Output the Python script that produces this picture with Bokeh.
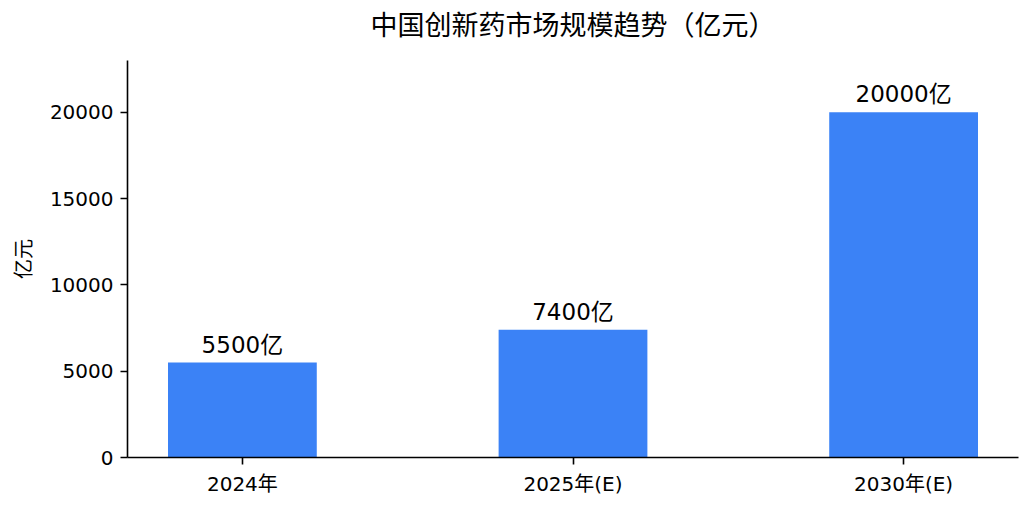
from bokeh.plotting import figure
from bokeh.models import FixedTicker, ColumnDataSource, Range1d, Title
from bokeh.core.properties import value
from bokeh.embed import file_html
from bokeh.resources import INLINE

categories = ["2024年", "2025年(E)", "2030年(E)"]
values = [5500, 7400, 20000]
bar_labels = ["5500亿", "7400亿", "20000亿"]
y_ticks = [0, 5000, 10000, 15000, 20000]
title_text = "中国创新药市场规模趋势（亿元）"

FONT = "DejaVu Sans, Noto Sans CJK SC"
TITLE_FONT = "Noto Sans CJK TC, DejaVu Sans"
positions = list(range(len(categories)))

src = ColumnDataSource(dict(x=positions, top=values, label=bar_labels))

p = figure(width=1024, height=501, output_backend="svg", toolbar_location=None,
           x_range=Range1d(-0.3475, len(categories) - 1 + 0.3475),
           y_range=Range1d(0, max(values) * 1.15),
           min_border_left=127, min_border_right=6, min_border_top=60, min_border_bottom=44,
           title=None)

# small spacer between frame and title (closest to the frame)
p.add_layout(Title(text=" ", text_font=FONT, text_font_size="12px", standoff=0), "above")
p.add_layout(Title(text=title_text, align="center", vertical_align="top", text_font=TITLE_FONT,
                   text_font_size="27px", text_font_style="normal", text_color="#000000",
                   standoff=0), "above")

p.vbar(x="x", top="top", width=0.45, bottom=0, source=src, color="#3b82f6", line_color=None)
p.text(x="x", y="top", text="label", source=src, text_align="center", text_baseline="alphabetic",
       y_offset=-18, text_font=value(FONT), text_font_size="23px", text_color="#000000")

p.xgrid.visible = False
p.ygrid.visible = False
p.outline_line_color = None

p.xaxis.ticker = FixedTicker(ticks=positions)
p.xaxis.major_label_overrides = {i: c for i, c in zip(positions, categories)}
p.yaxis.ticker = FixedTicker(ticks=y_ticks)
p.yaxis.axis_label = "亿元"

for ax in (p.xaxis, p.yaxis):
    ax.axis_line_color = "#000000"
    ax.axis_line_width = 1.6
    ax.major_tick_line_color = "#000000"
    ax.major_tick_line_width = 1.6
    ax.major_tick_out = 7
    ax.major_tick_in = 0
    ax.minor_tick_line_color = None
    ax.major_label_text_font = FONT
    ax.major_label_text_font_size = "20px"
    ax.major_label_text_color = "#000000"
    ax.major_label_standoff = 7

p.yaxis.axis_label_text_font = FONT
p.yaxis.axis_label_text_font_size = "20px"
p.yaxis.axis_label_text_font_style = "normal"
p.yaxis.axis_label_text_color = "#000000"
p.yaxis.axis_label_standoff = 11
p.yaxis.formatter.use_scientific = False

open("out.html", "w").write(file_html(p, INLINE))
